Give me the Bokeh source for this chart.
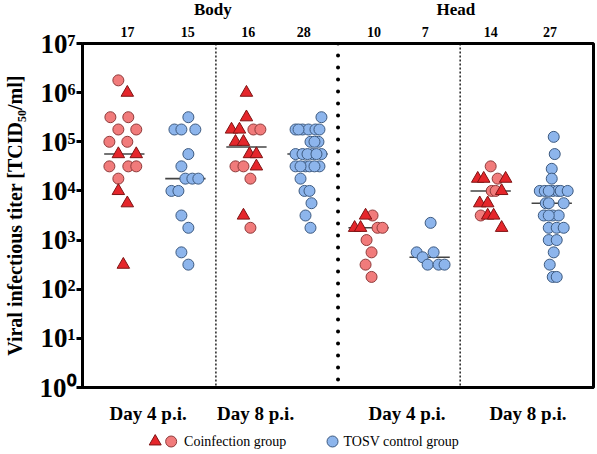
import numpy as np
from bokeh.plotting import figure
from bokeh.layouts import column
from bokeh.core.properties import value
from bokeh.models import (ColumnDataSource, Range1d, FixedTicker, LinearAxis, Span)
from bokeh.embed import file_html
from bokeh.resources import INLINE

# ---------------------------------------------------------------------------
# Data: log10 viral titers (TCID50/ml), one list per group.
# Coinfection groups mix two marker kinds: "t" = triangle, "c" = circle.
# ---------------------------------------------------------------------------
body_d4_coinf_log = [6.25, 6.0, 5.5, 5.5, 5.25, 5.25, 5.0, 5.0, 4.75, 4.75,
                     4.5, 4.5, 4.5, 4.25, 4.0, 3.75, 2.5]
body_d4_coinf_kind = ["c", "t", "c", "c", "c", "c", "c", "c", "t", "t",
                      "c", "c", "c", "c", "t", "t", "t"]

body_d4_tosv_log = [5.5, 5.25, 5.25, 5.25, 4.75, 4.5, 4.25, 4.25, 4.25, 4.0,
                    4.0, 3.5, 3.25, 2.75, 2.5]

body_d8_coinf_log = [6.0, 5.5, 5.25, 5.25, 5.25, 5.25, 5.0, 5.0, 4.75, 4.75,
                     4.5, 4.5, 4.5, 4.25, 3.5, 3.25]
body_d8_coinf_kind = ["t", "t", "t", "t", "c", "c", "t", "t", "t", "t",
                      "c", "c", "t", "c", "t", "c"]

body_d8_tosv_log = [5.5, 5.25, 5.25, 5.25, 5.25, 5.25, 5.25, 5.0, 5.0, 5.0,
                    4.75, 4.75, 4.75, 4.75, 4.75, 4.75, 4.5, 4.5, 4.5, 4.5,
                    4.5, 4.5, 4.25, 4.0, 4.0, 3.75, 3.5, 3.25]

head_d4_coinf_log = [3.5, 3.5, 3.25, 3.25, 3.25, 3.25, 3.0, 2.75, 2.5, 2.25]
head_d4_coinf_kind = ["c", "t", "t", "t", "c", "c", "c", "c", "c", "c"]

head_d4_tosv_log = [3.35, 2.75, 2.75, 2.65, 2.5, 2.5, 2.5]

head_d8_coinf_log = [4.5, 4.25, 4.25, 4.25, 4.25, 4.0, 4.0, 4.0, 3.75, 3.75,
                     3.5, 3.5, 3.5, 3.25]
head_d8_coinf_kind = ["c", "t", "t", "t", "c", "c", "c", "t", "t", "t",
                      "c", "t", "t", "t"]

head_d8_tosv_log = [5.1, 4.75, 4.45, 4.25, 4.0, 4.0, 4.0, 4.0, 4.0, 4.0, 4.0,
                    3.75, 3.75, 3.75, 3.5, 3.5, 3.5, 3.5, 3.25, 3.25, 3.25,
                    3.0, 3.0, 2.75, 2.5, 2.25, 2.25]

day_labels = ["Day 4 p.i.", "Day 8 p.i.", "Day 4 p.i.", "Day 8 p.i."]
tissue_labels = ["Body", "Head"]
legend_labels = ["Coinfection group", "TOSV control group"]
y_label = "Viral infectious titer [TCID\u2085\u2080/ml]"

# ---------------------------------------------------------------------------
# Layout: horizontal scatter spread of each point (in px) and label slots
# ---------------------------------------------------------------------------
spread_px = {
    "body_d4_coinf": [-6, 3, -14, 4, -6, 12, -15, 3, -6, 12, -15, 4, 12, -6, -6, 3, -1],
    "body_d4_tosv": [3, -11, -4, 10, 3, -4, 0, 7, 13, -14, -7, -4, 3, -4, 3],
    "body_d8_coinf": [0, 0, -15, -7, 7, 14, -11, -3, 3, 10, -11, -3, 10, 4, -3, 4],
    "body_d8_tosv": [14, -12, -5, 1, 8, 12, -9, 3, 11, 7, -12, -5, 5, 14, 0, 9,
                     -12, -2, 2, 12, -7, 7, -7, -3, 2, 4, -2, 3],
    "head_d4_coinf": [4, -3, -14, -8, 9, 14, -2, 3, -3, 3],
    "head_d4_tosv": [1, -13, 4, -7, -2, 9, 15],
    "head_d8_coinf": [0, -13, -7, 15, 7, 1, 5, 11, -11, -3, -10, -3, 3, 11],
    "head_d8_tosv": [2, 3, 0, 0, -12, -7, 1, 6, 9, 16, -3, -6, -3, 12, -8, 1, 7,
                     -3, -3, 5, 12, -3, 5, 2, -2, 1, 5],
}
PX_PER_UNIT = 61.3                     # one group slot in screen pixels
count_label_x = [1.05, 2.04, 3.03, 3.94, 5.09, 5.93, 7.0, 7.97]
day_label_x = [1.39, 3.15, 5.63, 7.61]
tissue_label_x = [2.45, 6.43]
dividers_thin = [2.5, 6.5]
divider_thick = 4.5

# legend strip slots, in canvas pixels
legend_marker_x = [153, 169, 331]
legend_text_x = [182, 342]

FRAME_LEFT, FRAME_RIGHT = 80, 593
TOP_H, MAIN_H, LEG_H = 20, 407, 27

groups = [
    ("body_d4_coinf", body_d4_coinf_log, body_d4_coinf_kind),
    ("body_d4_tosv", body_d4_tosv_log, None),
    ("body_d8_coinf", body_d8_coinf_log, body_d8_coinf_kind),
    ("body_d8_tosv", body_d8_tosv_log, None),
    ("head_d4_coinf", head_d4_coinf_log, head_d4_coinf_kind),
    ("head_d4_tosv", head_d4_tosv_log, None),
    ("head_d8_coinf", head_d8_coinf_log, head_d8_coinf_kind),
    ("head_d8_tosv", head_d8_tosv_log, None),
]

tri = dict(x=[], y=[])
coinf_circ = dict(x=[], y=[])
tosv_circ = dict(x=[], y=[])
med = dict(x0=[], x1=[], y=[])
counts = []
for i, (key, logs, kinds) in enumerate(groups):
    center = i + 1
    titers = 10.0 ** np.array(logs)
    xs = center + np.array(spread_px[key]) / PX_PER_UNIT
    counts.append(len(logs))
    for x, t, k in zip(xs, titers, kinds or ["b"] * len(logs)):
        target = tri if k == "t" else coinf_circ if k == "c" else tosv_circ
        target["x"].append(x)
        target["y"].append(t)
    m = float(np.median(titers))
    med["x0"].append(center - 0.33)
    med["x1"].append(center + 0.33)
    med["y"].append(m)

FONT = "Liberation Serif"
TOSV_STYLE = dict(marker="circle", size=11, fill_color="#8DB5EC",
                  line_color="#3D5A80", line_width=1)
COINF_CIRC_STYLE = dict(marker="circle", size=11, fill_color="#F17B7B",
                        line_color="#8E3A3A", line_width=1)
TRI_STYLE = dict(marker="triangle", size=12.5, fill_color="#E5262B",
                 line_color="#7E1414", line_width=1)


def strip(height, x_range, y_range):
    """A bare figure whose frame lines up with the main chart's frame."""
    f = figure(width=597, height=height, output_backend="svg",
               toolbar_location=None, x_axis_location=None, y_axis_location=None,
               min_border_left=FRAME_LEFT, min_border_right=597 - FRAME_RIGHT,
               min_border_top=0, min_border_bottom=0,
               x_range=x_range, y_range=y_range)
    f.outline_line_color = None
    f.xgrid.visible = False
    f.ygrid.visible = False
    f.background_fill_color = "white"
    f.border_fill_color = "white"
    return f


p = figure(width=597, height=MAIN_H,
           x_range=Range1d(0.315, 8.684), y_range=Range1d(1, 1e7),
           y_axis_type="log", output_backend="svg", toolbar_location=None,
           min_border_left=FRAME_LEFT, min_border_right=597 - FRAME_RIGHT,
           min_border_top=23, min_border_bottom=40)
p.xgrid.visible = False
p.ygrid.visible = False
p.outline_line_color = "black"
p.outline_line_width = 3
p.background_fill_color = "white"
p.border_fill_color = "white"

# Group dividers
for loc in dividers_thin:
    p.add_layout(Span(location=loc, dimension="height", line_color="black",
                      line_width=1.3, line_dash="2 2"))
p.add_layout(Span(location=divider_thick, dimension="height", line_color="black",
                  line_width=4, line_dash="0 12", line_cap="round"))

# Median bars
p.segment(x0="x0", x1="x1", y0="y", y1="y", source=ColumnDataSource(med),
          line_color="#444444", line_width=1.6)

p.scatter("x", "y", source=ColumnDataSource(tosv_circ), **TOSV_STYLE)
p.scatter("x", "y", source=ColumnDataSource(coinf_circ), **COINF_CIRC_STYLE)
p.scatter("x", "y", source=ColumnDataSource(tri), **TRI_STYLE)

# Y axis with decade labels
sup = {0: "\u2070", 1: "\u00b9", 2: "\u00b2", 3: "\u00b3", 4: "\u2074",
       5: "\u2075", 6: "\u2076", 7: "\u2077"}
yax = p.yaxis[0]
yax.ticker = FixedTicker(ticks=[10 ** k for k in range(8)])
yax.major_label_overrides = {10 ** k: "10" + sup[k] for k in range(8)}
yax.major_label_text_font = FONT
yax.major_label_text_font_style = "bold"
yax.major_label_text_font_size = "27px"
yax.major_label_text_color = "black"
yax.major_label_standoff = 1
yax.major_tick_out = 6
yax.major_tick_in = 0
yax.major_tick_line_width = 3
yax.major_tick_line_color = "black"
yax.minor_tick_line_color = None
yax.axis_line_width = 3
yax.axis_line_color = "black"
yax.axis_label = y_label
yax.axis_label_text_font = FONT
yax.axis_label_text_font_style = "bold"
yax.axis_label_text_font_size = "20px"
yax.axis_label_text_color = "black"
yax.axis_label_standoff = 11

# Bottom axis: day labels
xax = p.xaxis[0]
xax.ticker = FixedTicker(ticks=day_label_x)
xax.major_label_overrides = {x: t for x, t in zip(day_label_x, day_labels)}
xax.major_label_text_font = FONT
xax.major_label_text_font_style = "bold"
xax.major_label_text_font_size = "19px"
xax.major_label_text_color = "black"
xax.major_label_standoff = 15
xax.major_tick_out = 0
xax.major_tick_in = 0
xax.major_tick_line_color = None
xax.minor_tick_line_color = None
xax.axis_line_width = 3
xax.axis_line_color = "black"

# Top axis: group sizes
count_axis = LinearAxis(ticker=FixedTicker(ticks=count_label_x),
                        major_label_overrides={x: str(n) for x, n in zip(count_label_x, counts)},
                        axis_line_color=None, major_tick_line_color=None,
                        major_tick_out=0, major_tick_in=0,
                        minor_tick_line_color=None, major_label_standoff=7,
                        major_label_text_font=FONT, major_label_text_font_style="bold",
                        major_label_text_font_size="14px", major_label_text_color="black")
p.add_layout(count_axis, "above")

# Tissue headings above the chart, sharing its x scale
top = strip(TOP_H, p.x_range, Range1d(0, TOP_H))
top.text(x=tissue_label_x, y=[TOP_H - 9] * 2, text=tissue_labels,
         text_font=value(FONT), text_font_style="bold", text_font_size="17px",
         text_color="black", text_baseline="middle", text_align="center")

# Legend strip under the chart, laid out in canvas pixels
lg = strip(LEG_H, Range1d(FRAME_LEFT, FRAME_RIGHT), Range1d(0, LEG_H))
LEGEND_Y = 13
lg.scatter(x=[legend_marker_x[0]], y=[LEGEND_Y], **{**TRI_STYLE, "size": 12})
lg.scatter(x=[legend_marker_x[1]], y=[LEGEND_Y], **COINF_CIRC_STYLE)
lg.scatter(x=[legend_marker_x[2]], y=[LEGEND_Y], **TOSV_STYLE)
lg.text(x=legend_text_x, y=[LEGEND_Y] * 2, text=legend_labels,
        text_font=value(FONT), text_font_size="14px", text_color="black",
        text_baseline="middle", text_align="left")

layout = column(top, p, lg, spacing=0)
open("out.html", "w").write(file_html(layout, INLINE))
